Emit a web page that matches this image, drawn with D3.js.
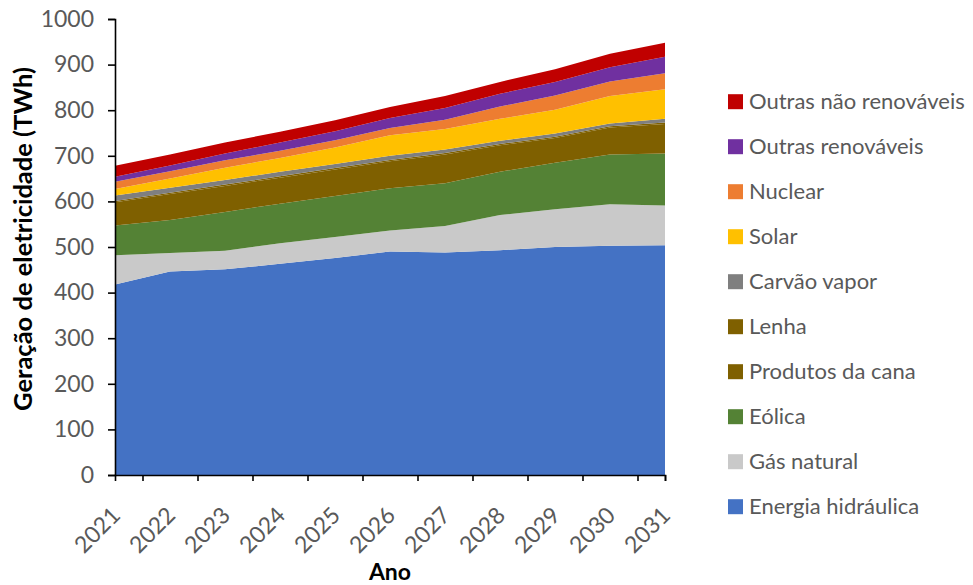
<!DOCTYPE html>
<html>
<head>
<meta charset="utf-8">
<script src="https://cdn.jsdelivr.net/npm/d3@7/dist/d3.min.js"></script>
<style>
  html, body { margin: 0; padding: 0; background: #fff; }
  svg { display: block; }
  text { font-family: Lato, "Open Sans", sans-serif; }
</style>
</head>
<body>
<svg id="chart" width="973" height="585"></svg>
<script>
const years = [2021, 2022, 2023, 2024, 2025, 2026, 2027, 2028, 2029, 2030, 2031];
const yTicks = [0, 100, 200, 300, 400, 500, 600, 700, 800, 900, 1000];

const hidraulica   = [418, 446, 451, 463, 476, 490, 488, 493, 500, 503, 504];
const gasNatural   = [64, 41, 41, 45, 46, 46, 58, 77, 83, 91, 87];
const eolica       = [65, 72, 85, 87, 90, 93, 94, 95, 102, 109, 114];
const produtosCana = [51, 57, 57, 57, 58, 59, 63, 58, 54, 59, 65];
const lenha        = [3, 3, 3, 3, 3, 3, 3, 3, 3, 3, 3];
const carvaoVapor  = [12, 11, 10, 10, 9, 9, 8, 7, 7, 6, 8];
const solar        = [14, 20, 27, 30, 36, 45, 45, 48, 52, 60, 65];
const nuclear      = [16, 16, 16, 16, 16, 16, 20, 27, 31, 32, 35];
const outrasRenov  = [11, 13, 15, 18, 20, 22, 26, 28, 30, 31, 36];
const outrasNaoRenov = [24, 24, 24, 24, 24, 24, 26, 26, 28, 30, 31];

const seriesNames = ["Energia hidráulica", "Gás natural", "Eólica", "Produtos da cana", "Lenha",
  "Carvão vapor", "Solar", "Nuclear", "Outras renováveis", "Outras não renováveis"];
const seriesValues = [hidraulica, gasNatural, eolica, produtosCana, lenha,
  carvaoVapor, solar, nuclear, outrasRenov, outrasNaoRenov];
const seriesColors = ["#4472C4", "#C9C9C9", "#548235", "#7F6000", "#7F6000",
  "#7F7F7F", "#FFC000", "#ED7D31", "#7030A0", "#C00000"];

const rows = years.map((yr, i) => {
  const o = { year: yr };
  seriesNames.forEach((n, k) => { o[n] = seriesValues[k][i]; });
  return o;
});

const svg = d3.select("#chart");
const pLeft = 115, pRight = 665, pTop = 19, pBottom = 475;

const x = d3.scaleLinear().domain([2021, 2031]).range([pLeft, pRight]);
const y = d3.scaleLinear().domain([0, 1000]).range([pBottom, pTop]);

const stack = d3.stack().keys(seriesNames);
const layers = stack(rows);

const area = d3.area()
  .x(d => x(d.data.year))
  .y0(d => y(d[0]))
  .y1(d => y(d[1]));

svg.append("g").selectAll("path")
  .data(layers)
  .join("path")
  .attr("d", area)
  .attr("fill", (d, i) => seriesColors[i]);

// Y axis
const yAxis = svg.append("g")
  .attr("transform", `translate(${pLeft},0)`)
  .call(d3.axisLeft(y).tickValues(yTicks).tickSize(7).tickPadding(14).tickFormat(d3.format("d")));
yAxis.select(".domain").attr("stroke", "#000").attr("stroke-width", 1.6);
yAxis.selectAll(".tick line").attr("stroke", "#000").attr("stroke-width", 1.6);
yAxis.selectAll(".tick text")
  .attr("fill", "#595959")
  .style("font-size", "23px");

// X axis (ticks between categories)
const midTicks = years.slice(0, -1).map(v => v + 0.5).concat([2031]);
const xAxis = svg.append("g")
  .attr("transform", `translate(0,${pBottom})`)
  .call(d3.axisBottom(x).tickValues(midTicks).tickSize(6).tickFormat(""));
xAxis.select(".domain").attr("stroke", "#000").attr("stroke-width", 1.6);
xAxis.selectAll(".tick line").attr("stroke", "#000").attr("stroke-width", 1.6);

// X labels rotated
svg.append("g").selectAll("text")
  .data(years)
  .join("text")
  .attr("transform", d => `translate(${x(d) + 1},${pBottom + 36}) rotate(-45)`)
  .attr("text-anchor", "end")
  .attr("dy", "0.35em")
  .attr("fill", "#595959")
  .style("font-size", "23px")
  .text(d => d);

// Axis titles
svg.append("text")
  .attr("transform", `translate(32,239) rotate(-90)`)
  .attr("text-anchor", "middle")
  .attr("font-weight", "bold")
  .attr("fill", "#000")
  .style("font-size", "25.5px")
  .text("Geração de eletricidade (TWh)");

svg.append("text")
  .attr("x", 390)
  .attr("y", 580)
  .attr("text-anchor", "middle")
  .attr("font-weight", "bold")
  .attr("fill", "#000")
  .style("font-size", "23px")
  .text("Ano");

// Legend (reverse order)
const legendOrder = seriesNames.map((n, i) => i).reverse();
const lg = svg.append("g");
legendOrder.forEach((k, j) => {
  const cy = 101.7 + 45 * j;
  lg.append("rect")
    .attr("x", 728).attr("y", cy - 7.5)
    .attr("width", 15).attr("height", 15)
    .attr("fill", seriesColors[k]);
  lg.append("text")
    .attr("x", 749).attr("y", cy)
    .attr("dy", "0.35em")
    .attr("fill", "#595959")
    .style("font-size", "22px")
    .text(seriesNames[k]);
});
</script>
</body>
</html>
